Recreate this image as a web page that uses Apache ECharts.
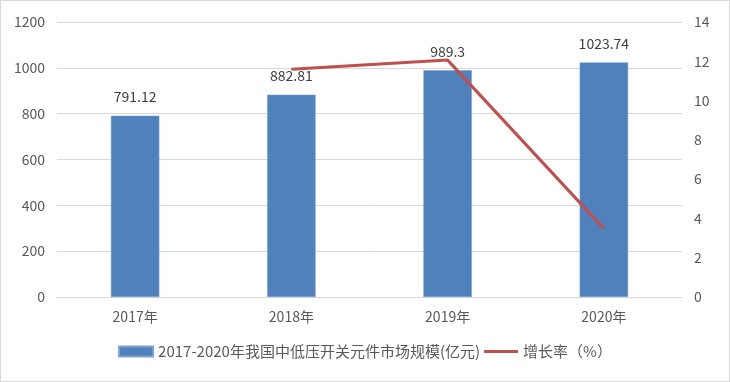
<!DOCTYPE html>
<html><head><meta charset="utf-8">
<script src="https://cdn.jsdelivr.net/npm/echarts@6/dist/echarts.min.js"></script>
<style>html,body{margin:0;padding:0;background:#fff}#c{width:730px;height:382px;box-sizing:border-box;border:1px solid #d9d9d9}</style>
</head><body><div id="c"></div>
<script>
const categories = ['2017年','2018年','2019年','2020年'];
const marketSize = [791.12, 882.81, 989.3, 1023.74];
const growthRate = [null, 11.59, 12.06, 3.48];
const leftTicks = [0, 1200, 200];
const rightTicks = [0, 14, 2];
const barName = '2017-2020年我国中低压开关元件市场规模(亿元)';
const lineName = '增长率（%）';

const font = '"Microsoft YaHei","Noto Sans CJK SC",sans-serif';
const chart = echarts.init(document.getElementById('c'));
chart.setOption({
  animation: false,
  textStyle: {fontFamily: font},
  grid: {left: 56, right: 47, top: 21, bottom: 84},
  legend: {
    bottom: 17, left: 'center', itemGap: 4, itemWidth: 34, itemHeight: 10,
    textStyle: {color: '#595959', fontSize: 15, fontFamily: font},
    data: [{name: barName, icon: 'rect'}, {name: lineName, icon: 'path://M0 0H34V3H0Z'}]
  },
  xAxis: {
    type: 'category', data: categories,
    axisLine: {lineStyle: {color: '#d9d9d9'}}, axisTick: {show: false},
    axisLabel: {color: '#595959', fontSize: 14, margin: 13}
  },
  yAxis: [
    {type: 'value', min: leftTicks[0], max: leftTicks[1], interval: leftTicks[2],
     axisLine: {show: false}, axisTick: {show: false},
     splitLine: {lineStyle: {color: '#d9d9d9'}},
     axisLabel: {color: '#595959', fontSize: 14, margin: 12, formatter: v => String(v)}},
    {type: 'value', min: rightTicks[0], max: rightTicks[1], interval: rightTicks[2],
     axisLine: {show: false}, axisTick: {show: false}, splitLine: {show: false},
     axisLabel: {color: '#595959', fontSize: 14, margin: 12}}
  ],
  series: [
    {name: barName, type: 'bar', data: marketSize, barWidth: '31%',
     itemStyle: {color: '#4f81bd', borderColor: '#7ea1d0', borderWidth: 0.5},
     label: {show: true, position: 'top', distance: 12, color: '#404040', fontSize: 14}},
    {name: lineName, type: 'line', yAxisIndex: 1, data: growthRate,
     symbol: 'none', lineStyle: {color: '#c0504d', width: 3},
     itemStyle: {color: '#c0504d'}}
  ]
});
</script></body></html>
